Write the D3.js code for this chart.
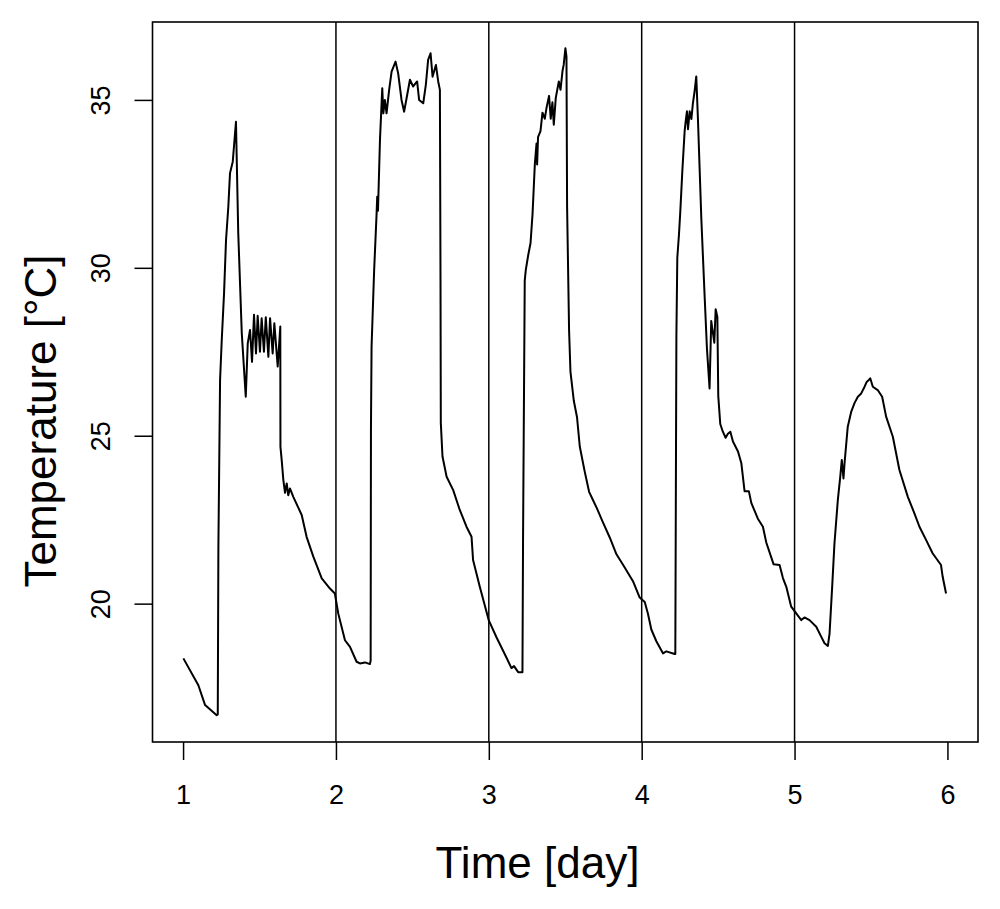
<!DOCTYPE html>
<html>
<head>
<meta charset="utf-8">
<script src="https://cdn.jsdelivr.net/npm/d3@7"></script>
<style>
  html, body { margin: 0; padding: 0; background: #fff; }
  svg { display: block; }
  text { font-family: "Liberation Sans", Arial, Helvetica, sans-serif; fill: #000; }
</style>
</head>
<body>
<svg id="chart" width="1000" height="909"></svg>
<script>
// ---- data ----
const days = [
  1.002, 1.100, 1.144, 1.220, 1.227, 1.231, 1.242, 1.253, 1.268, 1.281, 1.296, 1.307, 1.325, 1.346,
  1.361, 1.384, 1.410, 1.423, 1.438,
  1.451, 1.464, 1.477, 1.488, 1.503, 1.514, 1.529, 1.541, 1.558, 1.569, 1.586, 1.597, 1.619, 1.636,
  1.637, 1.645, 1.656, 1.667, 1.678, 1.688, 1.699, 1.721, 1.776, 1.808, 1.852, 1.907, 1.961, 1.993,
  2.015, 2.059, 2.092, 2.135, 2.157, 2.190, 2.222, 2.227, 2.229, 2.233, 2.244, 2.250, 2.266, 2.270,
  2.275, 2.288, 2.303, 2.310, 2.320, 2.331, 2.348, 2.364, 2.390, 2.407, 2.429, 2.446, 2.462, 2.484,
  2.505, 2.531, 2.544, 2.571, 2.588, 2.603, 2.619, 2.632, 2.654, 2.669, 2.680, 2.684, 2.686, 2.697,
  2.724, 2.767, 2.810, 2.854, 2.887, 2.897, 2.941, 3.000,
  3.050, 3.116, 3.148, 3.165, 3.192, 3.220, 3.224, 3.235, 3.242, 3.257, 3.273, 3.286, 3.301, 3.312,
  3.316, 3.322, 3.338, 3.351, 3.366, 3.377, 3.394, 3.405, 3.416, 3.425, 3.438, 3.458, 3.469, 3.482,
  3.490, 3.501, 3.508, 3.512, 3.525, 3.534, 3.556, 3.577, 3.595, 3.627, 3.656, 3.682, 3.708, 3.743,
  3.791, 3.835, 3.878, 3.943, 3.987,
  4.020, 4.041, 4.063, 4.096, 4.139, 4.161, 4.216, 4.220, 4.227, 4.233, 4.244, 4.253, 4.266, 4.281,
  4.288, 4.296, 4.303, 4.314, 4.325, 4.335, 4.346, 4.357, 4.368, 4.390, 4.412, 4.427, 4.444, 4.455,
  4.466, 4.475, 4.484, 4.495, 4.501, 4.514, 4.531, 4.549, 4.564, 4.580, 4.597, 4.630, 4.652, 4.673,
  4.701, 4.717, 4.760, 4.793, 4.815, 4.863, 4.902, 4.924, 4.946, 4.978,
  5.011, 5.044, 5.065, 5.098, 5.142, 5.175, 5.196, 5.218, 5.229, 5.246, 5.261, 5.283, 5.299, 5.309,
  5.320, 5.327, 5.348, 5.371, 5.392, 5.414, 5.436, 5.458, 5.473, 5.486, 5.495, 5.512, 5.544, 5.573,
  5.599, 5.643, 5.686, 5.741, 5.784, 5.817, 5.861, 5.903, 5.958, 5.969, 5.991
];
const temps = [
  18.37, 17.57, 16.98, 16.68, 16.70, 21.70, 26.66, 27.85, 29.24, 30.83, 31.82, 32.82, 33.16, 34.35,
  31.03, 28.05, 26.16, 27.75, 28.15,
  27.20, 28.60, 27.45, 28.57, 27.50, 28.50, 27.50, 28.53, 27.35, 28.50, 27.45, 28.35, 27.06, 28.25,
  24.67, 24.28, 23.68, 23.30, 23.58, 23.23, 23.43, 23.18, 22.64, 21.99, 21.40, 20.75, 20.45, 20.30,
  19.71, 18.91, 18.71, 18.27, 18.22, 18.25, 18.20, 18.30, 25.17, 27.65, 29.14, 29.94, 31.62, 32.12,
  31.70, 33.81, 35.35, 34.60, 35.00, 34.60, 35.30, 35.84, 36.14, 35.79, 35.00, 34.65, 35.05, 35.60,
  35.40, 35.55, 35.00, 34.90, 35.45, 36.19, 36.39, 35.69, 36.04, 35.55, 35.30, 29.64, 25.38, 24.38,
  23.78, 23.38, 22.79, 22.29, 21.99, 21.30, 20.50, 19.50,
  19.00, 18.39, 18.08, 18.14, 17.96, 17.96, 21.97, 29.62, 29.94, 30.36, 30.74, 31.60, 33.08, 33.70,
  33.08, 33.89, 34.07, 34.62, 34.44, 34.75, 35.12, 34.44, 34.93, 34.26, 35.06, 35.55, 35.30, 35.86,
  36.05, 36.54, 36.29, 31.85, 28.14, 26.91, 26.04, 25.55, 24.68, 23.94, 23.33, 23.08, 22.83, 22.46,
  21.97, 21.47, 21.16, 20.67, 20.18,
  20.05, 19.70, 19.23, 18.88, 18.52, 18.58, 18.50, 18.50, 27.95, 30.30, 31.00, 31.71, 32.89, 34.07,
  34.37, 34.66, 34.13, 34.66, 34.43, 34.90, 35.25, 35.70, 34.43, 31.48, 29.13, 27.59, 26.41, 28.42,
  28.06, 27.77, 28.77, 28.54, 26.18, 25.35, 25.12, 24.94, 25.06, 25.12, 24.83, 24.53, 24.18, 23.35,
  23.35, 23.00, 22.53, 22.29, 21.82, 21.17, 21.15, 20.76, 20.50, 19.91,
  19.71, 19.51, 19.59, 19.51, 19.31, 19.01, 18.82, 18.74, 19.11, 20.50, 21.79, 23.08, 23.78, 24.28,
  23.73, 24.18, 25.27, 25.72, 25.97, 26.16, 26.26, 26.46, 26.61, 26.66, 26.71, 26.46, 26.36, 26.16,
  25.57, 24.97, 23.98, 23.18, 22.69, 22.29, 21.89, 21.50, 21.15, 20.80, 20.30
];
const xTicks = [1, 2, 3, 4, 5, 6];
const yTicks = [20, 25, 30, 35];
const dayLines = [2, 3, 4, 5];
const xDomain = [0.8, 6.2];
const yDomain = [15.88, 37.32];
const xLabel = "Time [day]";
const yLabel = "Temperature [°C]";

// ---- layout ----
const plot = { left: 152.5, right: 978, top: 22, bottom: 742 };
const svg = d3.select("#chart");

const x = d3.scaleLinear().domain(xDomain).range([plot.left, plot.right]);
const y = d3.scaleLinear().domain(yDomain).range([plot.bottom, plot.top]);

const data = days.map((d, i) => ({ d, t: temps[i] }));

// vertical day separators
svg.append("g").selectAll("line").data(dayLines).join("line")
  .attr("x1", d => x(d)).attr("x2", d => x(d))
  .attr("y1", plot.top).attr("y2", plot.bottom)
  .attr("stroke", "#000").attr("stroke-width", 1.5);

// temperature curve
const line = d3.line().x(p => x(p.d)).y(p => y(p.t));
svg.append("path").datum(data)
  .attr("d", line)
  .attr("fill", "none").attr("stroke", "#000")
  .attr("stroke-width", 2).attr("stroke-linejoin", "round");

// box
svg.append("rect")
  .attr("x", plot.left).attr("y", plot.top)
  .attr("width", plot.right - plot.left).attr("height", plot.bottom - plot.top)
  .attr("fill", "none").attr("stroke", "#000").attr("stroke-width", 1.6);

// x axis
const xAxis = d3.axisBottom(x).tickValues(xTicks).tickSize(18).tickPadding(25)
  .tickFormat(d3.format("d"));
const gx = svg.append("g").attr("transform", `translate(0,${plot.bottom})`).call(xAxis);
gx.select(".domain").remove();
gx.selectAll(".tick line").attr("stroke", "#000").attr("stroke-width", 1.5);
gx.selectAll(".tick text").attr("font-size", 27).attr("font-family", "Liberation Sans, Arial, sans-serif").attr("fill", "#000");

// y axis
const yAxis = d3.axisLeft(y).tickValues(yTicks).tickSize(18).tickPadding(0)
  .tickFormat(d3.format("d"));
const gy = svg.append("g").attr("transform", `translate(${plot.left},0)`).call(yAxis);
gy.select(".domain").remove();
gy.selectAll(".tick line").attr("stroke", "#000").attr("stroke-width", 1.5);
gy.selectAll(".tick text")
  .attr("font-size", 27).attr("font-family", "Liberation Sans, Arial, sans-serif").attr("fill", "#000")
  .attr("x", null).attr("dy", null)
  .attr("text-anchor", "middle")
  .attr("transform", "translate(-42.5,0) rotate(-90)");

// axis titles
svg.append("text")
  .attr("x", 537.5).attr("y", 878)
  .attr("text-anchor", "middle").attr("font-size", 44)
  .text(xLabel);

svg.append("text")
  .attr("transform", "translate(56,421) rotate(-90)")
  .attr("text-anchor", "middle").attr("font-size", 44)
  .text(yLabel);
</script>
</body>
</html>
